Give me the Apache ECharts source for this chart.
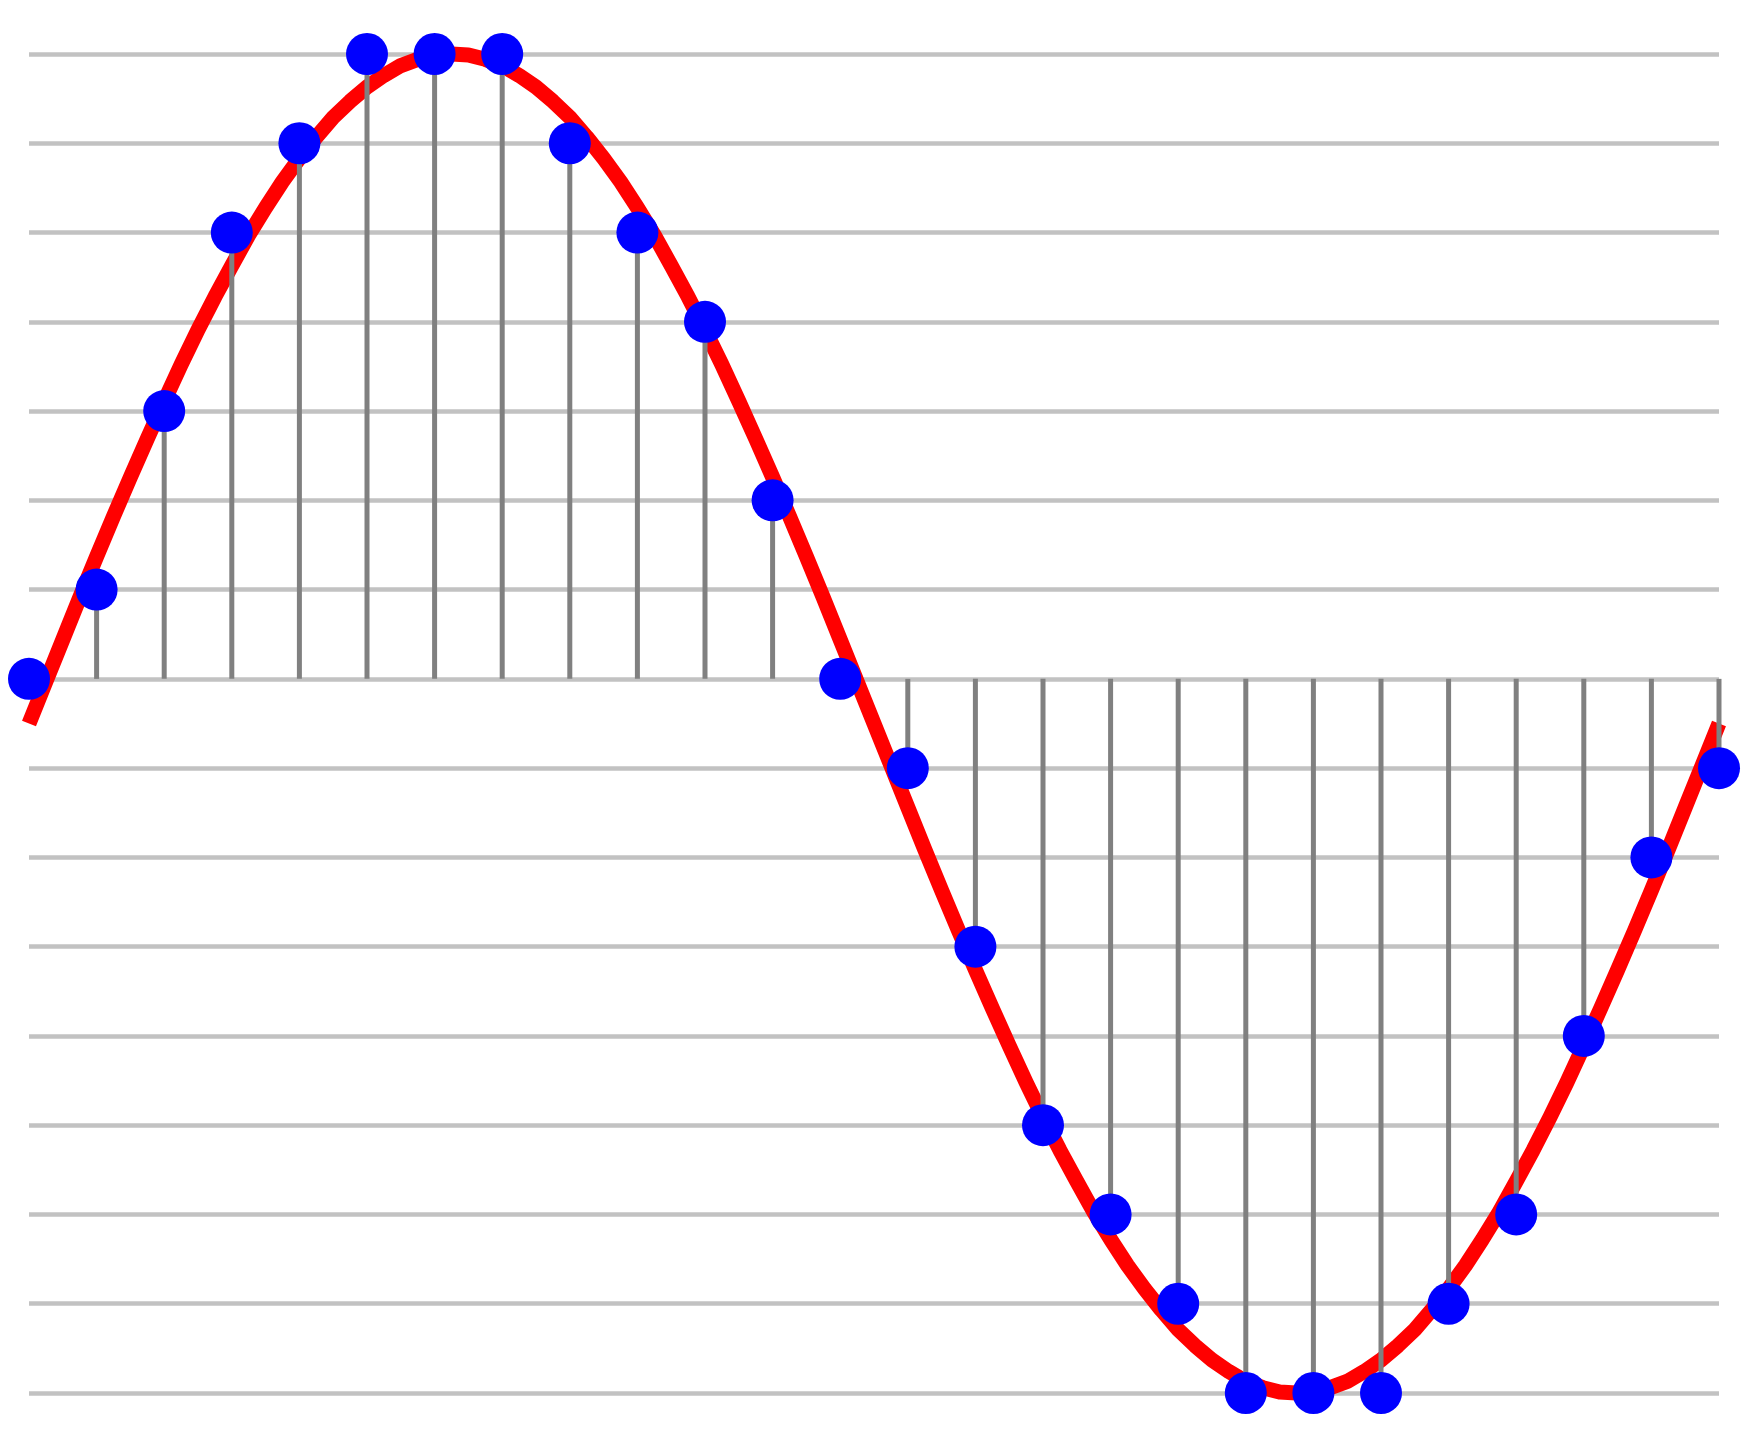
<!DOCTYPE html>
<html>
<head>
<meta charset="utf-8">
<script src="https://cdn.jsdelivr.net/npm/echarts@6/dist/echarts.min.js"></script>
<style>html,body{margin:0;padding:0;background:#fff}#c{width:1750px;height:1450px}</style>
</head>
<body>
<div id="c"></div>
<script>
// Sample positions and quantized sample levels
const sampleX = [0,1,2,3,4,5,6,7,8,9,10,11,12,13,14,15,16,17,18,19,20,21,22,23,24,25];
const sampleLevels = [0,1,3,5,6,7,7,7,6,5,4,2,0,-1,-3,-5,-6,-7,-8,-8,-8,-7,-6,-4,-2,-1];

// Continuous (analog) signal read at quarter-sample steps
const curveX = [0,0.25,0.5,0.75,1,1.25,1.5,1.75,2,2.25,2.5,2.75,3,3.25,3.5,3.75,4,4.25,4.5,4.75,
  5,5.25,5.5,5.75,6,6.25,6.5,6.75,7,7.25,7.5,7.75,8,8.25,8.5,8.75,9,9.25,9.5,9.75,
  10,10.25,10.5,10.75,11,11.25,11.5,11.75,12,12.25,12.5,12.75,13,13.25,13.5,13.75,14,14.25,14.5,14.75,
  15,15.25,15.5,15.75,16,16.25,16.5,16.75,17,17.25,17.5,17.75,18,18.25,18.5,18.75,19,19.25,19.5,19.75,
  20,20.25,20.5,20.75,21,21.25,21.5,21.75,22,22.25,22.5,22.75,23,23.25,23.5,23.75,24,24.25,24.5,24.75,25];
const curveY = [-0.5,-0.03,0.44,0.91,1.37,1.82,2.26,2.69,3.11,3.52,3.91,4.28,4.63,4.97,5.28,5.57,5.83,6.07,6.29,6.47,
  6.63,6.76,6.87,6.94,6.99,7.00,6.99,6.94,6.87,6.76,6.63,6.47,6.29,6.07,5.83,5.57,5.28,4.97,4.63,4.28,
  3.91,3.52,3.11,2.69,2.26,1.82,1.37,0.91,0.44,-0.03,-0.5,-0.97,-1.44,-1.91,-2.37,-2.82,-3.26,-3.69,-4.11,-4.52,
  -4.91,-5.28,-5.63,-5.97,-6.28,-6.57,-6.83,-7.07,-7.29,-7.47,-7.63,-7.76,-7.87,-7.94,-7.99,-8.00,-7.99,-7.94,-7.87,-7.76,
  -7.63,-7.47,-7.29,-7.07,-6.83,-6.57,-6.28,-5.97,-5.63,-5.28,-4.91,-4.52,-4.11,-3.69,-3.26,-2.82,-2.37,-1.91,-1.44,-0.97,-0.5];

// Level axis
const levelMin = -8, levelMax = 7;

const chart = echarts.init(document.getElementById('c'), null, {renderer: 'canvas'});
chart.setOption({
  animation: false,
  backgroundColor: '#ffffff',
  grid: {left: 29, right: 31, top: 54, bottom: 57, containLabel: false},
  xAxis: {
    type: 'value', min: 0, max: 25,
    axisLine: {show: false}, axisTick: {show: false}, axisLabel: {show: false},
    splitLine: {show: false}
  },
  yAxis: {
    type: 'value', min: levelMin, max: levelMax, interval: 1,
    axisLine: {show: false}, axisTick: {show: false}, axisLabel: {show: false},
    splitLine: {show: true, lineStyle: {color: '#c2c2c2', width: 4.5}}
  },
  series: [
    {
      type: 'line', z: 2,
      data: curveX.map((x, i) => [x, curveY[i]]),
      smooth: false, showSymbol: false, symbol: 'none',
      lineStyle: {color: '#ff0000', width: 15, cap: 'butt', join: 'round'},
      emphasis: {disabled: true},
      clip: false
    },
    {
      type: 'bar', z: 3,
      data: sampleX.map((x, i) => [x, sampleLevels[i]]),
      barWidth: 5,
      itemStyle: {color: '#808080'},
      emphasis: {disabled: true},
      clip: false
    },
    {
      type: 'scatter', z: 4,
      data: sampleX.map((x, i) => [x, sampleLevels[i]]),
      symbol: 'circle', symbolSize: 42,
      itemStyle: {color: '#0000ff', opacity: 1},
      emphasis: {disabled: true},
      clip: false
    }
  ]
});
</script>
</body>
</html>
